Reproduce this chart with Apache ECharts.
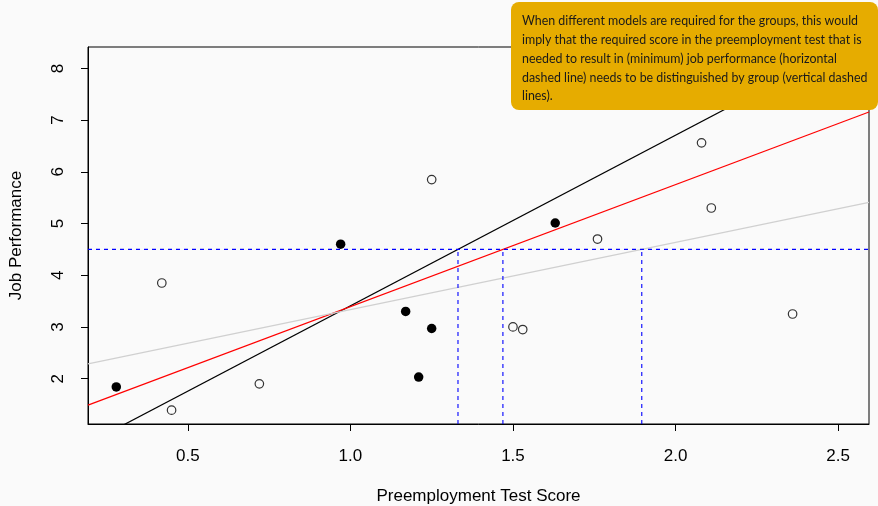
<!DOCTYPE html>
<html>
<head>
<meta charset="utf-8">
<script src="https://cdn.jsdelivr.net/npm/echarts@6/dist/echarts.min.js"></script>
<style>
  html, body { margin: 0; padding: 0; background: #FAFAFA; }
  #chart { width: 878px; height: 506px; }
</style>
</head>
<body>
<div id="chart"></div>
<script>
// Group A (filled markers)
const groupAX = [0.28, 0.97, 1.17, 1.25, 1.21, 1.63];
const groupAY = [1.84, 4.60, 3.30, 2.97, 2.03, 5.01];
// Group B (open markers)
const groupBX = [0.42, 0.45, 0.72, 1.25, 1.50, 1.53, 1.76, 2.08, 2.11, 2.36];
const groupBY = [3.85, 1.39, 1.90, 5.85, 3.00, 2.95, 4.70, 6.56, 5.30, 3.25];

// Fitted models: intercept and slope
const modelNames = ['group A', 'pooled', 'group B'];
const modelIntercepts = [0.108, 1.033, 2.035];
const modelSlopes = [3.30, 2.36, 1.30];
const modelColors = ['#000000', '#FF0000', '#D0D0D0'];

// Minimum required job performance
const threshold = 4.5;

// Axis ranges and ticks
const xRange = [0.193, 2.595];
const yRange = [1.123, 8.414];
const xTicks = [0.5, 1.0, 1.5, 2.0, 2.5];
const xTickLabels = ['0.5', '1.0', '1.5', '2.0', '2.5'];
const yTicks = [2, 3, 4, 5, 6, 7, 8];
const yTickLabels = ['2', '3', '4', '5', '6', '7', '8'];

const noteLines = [
  'When different models are required for the groups, this would',
  'imply that the required score in the preemployment test that is',
  'needed to result in (minimum) job performance (horizontal',
  'dashed line) needs to be distinguished by group (vertical dashed',
  'lines).'
];

const pairs = (xs, ys) => xs.map((x, i) => [x, ys[i]]);

const chart = echarts.init(document.getElementById('chart'), null, { renderer: 'canvas' });

const axisFont = 'Liberation Sans, Arial, sans-serif';

const series = [];

// Points
series.push({
  type: 'scatter', name: 'group B', data: pairs(groupBX, groupBY),
  symbol: 'circle', symbolSize: 8.5,
  itemStyle: { color: 'rgba(0,0,0,0)', borderColor: '#000', borderWidth: 1.2 },
  z: 3
});
series.push({
  type: 'scatter', name: 'group A', data: pairs(groupAX, groupAY),
  symbol: 'circle', symbolSize: 9.5,
  itemStyle: { color: '#000', opacity: 1 },
  z: 3
});

// Regression lines across the full x range
modelNames.forEach((name, i) => {
  const a = modelIntercepts[i], b = modelSlopes[i];
  series.push({
    type: 'line', name: name,
    data: [[xRange[0], a + b * xRange[0]], [xRange[1], a + b * xRange[1]]],
    showSymbol: false, clip: true, silent: true,
    lineStyle: { color: modelColors[i], width: 1.2 },
    z: 4
  });
});

// Horizontal threshold line
series.push({
  type: 'line', name: 'threshold',
  data: [[xRange[0], threshold], [xRange[1], threshold]],
  showSymbol: false, clip: true, silent: true,
  lineStyle: { color: '#0000FF', width: 1.1, type: [4, 4] },
  z: 5
});

// Required score per model (vertical dashed lines)
modelNames.forEach((name, i) => {
  const xr = (threshold - modelIntercepts[i]) / modelSlopes[i];
  series.push({
    type: 'line', name: 'cut ' + name,
    data: [[xr, yRange[0]], [xr, threshold]],
    showSymbol: false, clip: true, silent: true,
    lineStyle: { color: '#0000FF', width: 1.1, type: [4, 4] },
    z: 5
  });
});

chart.setOption({
  backgroundColor: '#FAFAFA',
  animation: false,
  grid: {
    left: 88, top: 47, width: 781, height: 377,
    containLabel: false, outerBoundsMode: 'none',
    show: true, borderColor: '#000', borderWidth: 1, backgroundColor: 'transparent'
  },
  xAxis: {
    type: 'value', min: xRange[0], max: xRange[1],
    name: 'Preemployment Test Score', nameLocation: 'middle', nameGap: 64,
    nameTextStyle: { fontFamily: axisFont, fontSize: 17, color: '#000' },
    splitLine: { show: false },
    axisLine: { show: true, lineStyle: { color: '#000', width: 1 } },
    axisTick: { show: true, length: 7, customValues: xTicks, lineStyle: { color: '#000', width: 1 } },
    axisLabel: {
      customValues: xTicks, margin: 24,
      fontFamily: axisFont, fontSize: 17, color: '#000',
      formatter: (v) => { const k = xTicks.findIndex(t => Math.abs(t - v) < 1e-9); return k >= 0 ? xTickLabels[k] : ''; }
    }
  },
  yAxis: {
    type: 'value', min: yRange[0], max: yRange[1],
    name: 'Job Performance', nameLocation: 'middle', nameGap: 63, nameRotate: 90,
    nameTextStyle: { fontFamily: axisFont, fontSize: 17, color: '#000' },
    splitLine: { show: false },
    axisLine: { show: true, lineStyle: { color: '#000', width: 1 } },
    axisTick: { show: true, length: 7, customValues: yTicks, lineStyle: { color: '#000', width: 1 } },
    axisLabel: {
      customValues: yTicks, margin: 21, rotate: 90,
      fontFamily: axisFont, fontSize: 17, color: '#000',
      formatter: (v) => { const k = yTicks.findIndex(t => Math.abs(t - v) < 1e-9); return k >= 0 ? yTickLabels[k] : ''; }
    }
  },
  series: series,
  graphic: {
    elements: [
      {
        type: 'rect', z: 100, zlevel: 0,
        x: 511, y: 2,
        shape: { x: 0, y: 0, width: 367, height: 108, r: 8 },
        style: { fill: '#E6AC00' }
      },
      {
        type: 'text', z: 101, zlevel: 0,
        x: 522, y: 12,
        style: {
          text: noteLines.join('\n'),
          font: '12.4px Lato, sans-serif',
          fill: '#1A1A1A',
          lineHeight: 18.75,
          verticalAlign: 'top', align: 'left'
        }
      }
    ]
  }
});
</script>
</body>
</html>
